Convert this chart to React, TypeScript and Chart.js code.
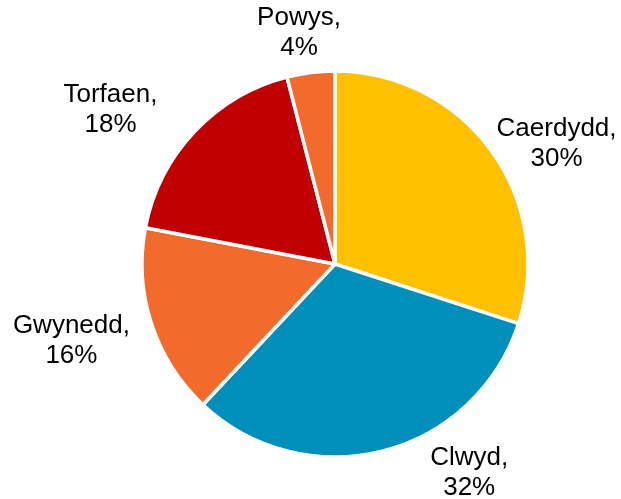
import React, { useEffect, useRef } from "react";
import { Chart, registerables } from "chart.js";

Chart.register(...registerables);

const categories = ["Caerdydd", "Clwyd", "Gwynedd", "Torfaen", "Powys"];
const shares = [30, 32, 16, 18, 4];
const sliceColors = ["#FFC000", "#008EBA", "#F26B2C", "#C00000", "#F26B2C"];
// label placement: angle (deg clockwise from top) and distance as a multiple of the pie radius
const labelAngles = [61.2, 147.1, 254.1, 304.7, 351.2];
const labelDistances = [1.31, 1.28, 1.42, 1.415, 1.22];

const labelPlugin = {
  id: "outerLabels",
  afterDatasetsDraw(chart: any) {
    const meta = chart.getDatasetMeta(0);
    if (!meta || !meta.data.length) return;
    const arc0 = meta.data[0];
    const cx = arc0.x;
    const cy = arc0.y;
    const r = arc0.outerRadius;
    const ctx = chart.ctx;
    ctx.save();
    ctx.font = "26px 'Liberation Sans', Arial, sans-serif";
    ctx.fillStyle = "#000000";
    ctx.textAlign = "center";
    ctx.textBaseline = "middle";
    const lineH = 30;
    meta.data.forEach((_: any, i: number) => {
      const a = (labelAngles[i] * Math.PI) / 180;
      const d = labelDistances[i] * r;
      const x = cx + Math.sin(a) * d;
      const y = cy - Math.cos(a) * d + 1.5;
      ctx.fillText(categories[i] + ",", x, y - lineH / 2);
      ctx.fillText(shares[i] + "%", x, y + lineH / 2);
    });
    ctx.restore();
  },
};

export default function App() {
  const canvasRef = useRef<HTMLCanvasElement | null>(null);

  useEffect(() => {
    document.body.style.margin = "0";
    const canvas = canvasRef.current;
    if (!canvas) return;
    const chart = new Chart(canvas, {
      type: "pie",
      data: {
        labels: categories,
        datasets: [
          {
            data: shares,
            backgroundColor: sliceColors,
            borderColor: "#FFFFFF",
            borderWidth: 3.5,
            radius: 193,
            hoverOffset: 0,
          } as any,
        ],
      },
      options: {
        animation: false,
        responsive: true,
        maintainAspectRatio: false,
        layout: { padding: { left: 49, right: 0, top: 29, bottom: 0 } },
        plugins: {
          legend: { display: false },
          tooltip: { enabled: false },
          title: { display: false },
        },
      },
      plugins: [labelPlugin],
    });
    return () => chart.destroy();
  }, []);

  return (
    <div style={{ width: 621, height: 499, position: "relative", background: "#FFFFFF" }}>
      <canvas ref={canvasRef} />
    </div>
  );
}
